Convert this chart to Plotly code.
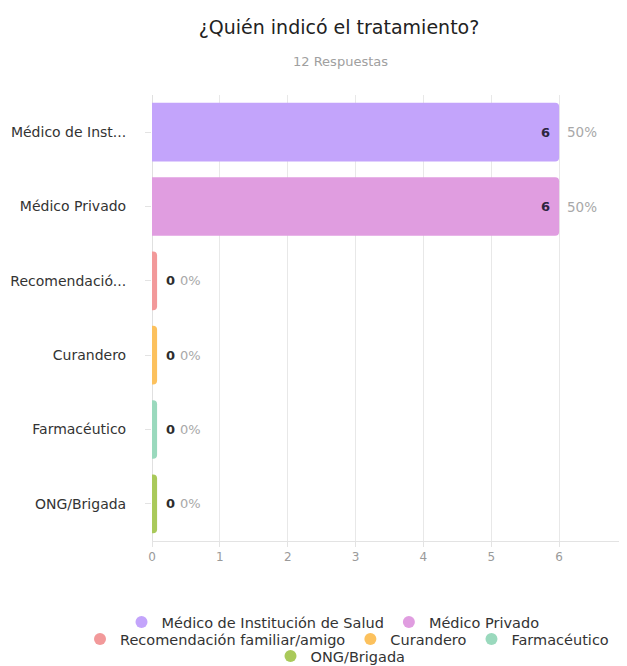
import plotly.graph_objects as go

categories = ["Médico de Institución de Salud", "Médico Privado", "Recomendación familiar/amigo",
              "Curandero", "Farmacéutico", "ONG/Brigada"]
tick_labels = ["Médico de Inst...", "Médico Privado", "Recomendació...",
               "Curandero", "Farmacéutico", "ONG/Brigada"]
counts = [6, 6, 0, 0, 0, 0]
percents = ["50%", "50%", "0%", "0%", "0%", "0%"]
colors = ["#c3a4fb", "#e09de0", "#f2999a", "#fcc15d", "#9ad9bd", "#a9c95a"]
total_label = "12 Respuestas"
title = "¿Quién indicó el tratamiento?"

FONT = "'DejaVu Sans', sans-serif"
MIN_BAR = 0.075  # minimum visible bar length for zero values (style)

# page body has an 8px margin; figure coordinates = screen - 8
OFF = 8
W, H = 627 - OFF, 666 - OFF
T, B, L, R = 95 - OFF, 125, 152 - OFF, 0
PH = H - T - B
PW = W - L - R


def py(screen_y):
    return 1 - (screen_y - OFF - T) / PH


def px(screen_x):
    return (screen_x - OFF - L) / PW


display = [max(v, MIN_BAR) for v in counts]

fig = go.Figure()
fig.add_trace(go.Bar(
    y=tick_labels, x=display, orientation="h",
    marker=dict(color=colors, line=dict(width=0)),
    width=0.79, showlegend=False, hoverinfo="skip",
))

# legend-only entries (circles)
legend_ids = ["legend", "legend", "legend2", "legend2", "legend2", "legend3"]
for name, col, lg in zip(categories, colors, legend_ids):
    fig.add_trace(go.Scatter(
        x=[None], y=[None], mode="markers", name=name,
        marker=dict(color=col, size=14, symbol="circle"),
        legend=lg, showlegend=True,
    ))

annotations = []
for lab, v, d, p in zip(tick_labels, counts, display, percents):
    if v > 0:
        annotations.append(dict(x=d, y=lab, xref="x", yref="y", text=f"<b>{v}</b>",
                                xanchor="right", xshift=-7, showarrow=False,
                                font=dict(family=FONT, size=13, color="#2d2640")))
        annotations.append(dict(x=d, y=lab, xref="x", yref="y", text=p,
                                xanchor="left", xshift=6, showarrow=False,
                                font=dict(family=FONT, size=13.5, color="#a8a8a8")))
    else:
        annotations.append(dict(x=d, y=lab, xref="x", yref="y", text=f"<b>{v}</b>",
                                xanchor="left", xshift=7, showarrow=False,
                                font=dict(family=FONT, size=13, color="#2d2d2d")))
        annotations.append(dict(x=d, y=lab, xref="x", yref="y", text=p,
                                xanchor="left", xshift=21, showarrow=False,
                                font=dict(family=FONT, size=13, color="#a8a8a8")))

annotations.append(dict(x=px(340), y=py(62), xref="paper", yref="paper",
                        text=total_label, showarrow=False, xanchor="center", yanchor="middle",
                        font=dict(family=FONT, size=13, color="#a0a0a0")))

legend_common = dict(orientation="h", xref="paper", yref="paper",
                     xanchor="left", yanchor="middle", bgcolor="rgba(0,0,0,0)",
                     font=dict(family=FONT, size=14.5, color="#333333"),
                     itemsizing="constant", tracegroupgap=0)

fig.update_layout(
    width=W, height=H,
    margin=dict(l=L, r=R, t=T, b=B, autoexpand=False),
    paper_bgcolor="white", plot_bgcolor="white",
    barcornerradius=4,
    title=dict(text=title, x=(339 - OFF) / W, y=1 - (27 - OFF) / H, xref="container", yref="container",
               xanchor="center", yanchor="middle",
               font=dict(family=FONT, size=19, color="#222222")),
    xaxis=dict(range=[0, 7], dtick=1, showgrid=True, gridcolor="#e8e8e8", gridwidth=1,
               zeroline=True, zerolinecolor="#e0e0e0", zerolinewidth=1,
               showline=True, linecolor="#e3e3e3", linewidth=1,
               ticks="outside", ticklen=5, tickcolor="#e3e3e3", automargin=False,
               tickfont=dict(family=FONT, size=12, color="#9a9a9a"), fixedrange=True),
    yaxis=dict(autorange="reversed", showgrid=False, zeroline=False, automargin=False,
               ticks="outside", ticklen=6, tickcolor="#e3e3e3",
               tickfont=dict(family=FONT, size=14, color="#333333"), ticklabelstandoff=16),
    bargap=0.21,
    legend=dict(x=px(141.5 - 20), y=py(622), **legend_common),
    legend2=dict(x=px(100 - 20), y=py(639), **legend_common),
    legend3=dict(x=px(290.5 - 20), y=py(656), **legend_common),
    annotations=annotations,
)

fig.write_html("out.html")
